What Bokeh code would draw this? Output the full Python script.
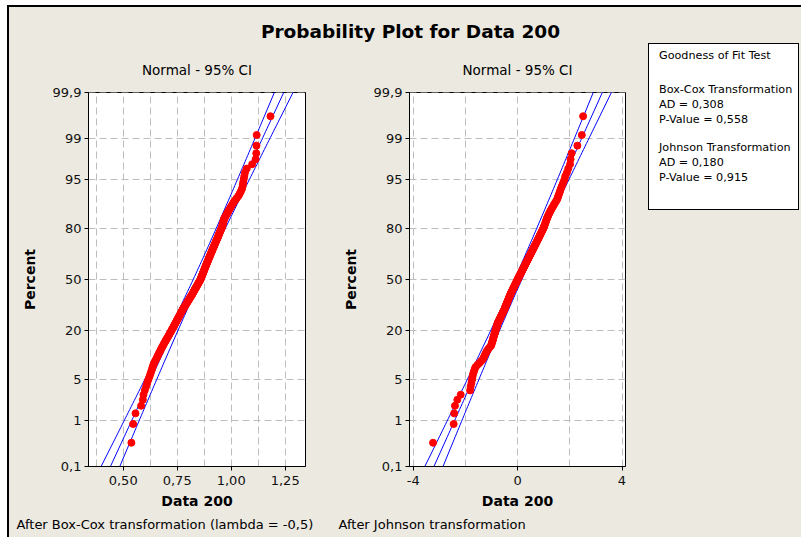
from statistics import NormalDist
import math
from bokeh.plotting import figure
from bokeh.models import Range1d, FixedTicker, Label, Title, ColumnDataSource, Div
from bokeh.layouts import row, column
from bokeh.embed import file_html
from bokeh.resources import INLINE

# ---------------- data ----------------
main_title = "Probability Plot for Data 200"
panel_title = "Normal - 95% CI"
x_label = "Data 200"
y_label = "Percent"

percent_ticks = [0.1, 1, 5, 20, 50, 80, 95, 99, 99.9]
percent_labels = ["0,1", "1", "5", "20", "50", "80", "95", "99", "99,9"]

# sorted sample after Box-Cox transformation (n = 200)
boxcox_data = [
    0.538, 0.546, 0.557, 0.583, 0.591, 0.594, 0.600, 0.606, 0.611, 0.616,
    0.621, 0.625, 0.629, 0.633, 0.636, 0.639, 0.643, 0.647, 0.652, 0.656,
    0.660, 0.663, 0.667, 0.671, 0.674, 0.678, 0.681, 0.685, 0.688, 0.691,
    0.695, 0.698, 0.701, 0.705, 0.708, 0.711, 0.714, 0.717, 0.720, 0.723,
    0.725, 0.728, 0.731, 0.733, 0.736, 0.738, 0.741, 0.743, 0.746, 0.748,
    0.750, 0.753, 0.755, 0.757, 0.760, 0.762, 0.764, 0.766, 0.768, 0.770,
    0.773, 0.775, 0.777, 0.780, 0.782, 0.784, 0.787, 0.789, 0.792, 0.794,
    0.796, 0.799, 0.801, 0.803, 0.806, 0.808, 0.810, 0.812, 0.815, 0.817,
    0.819, 0.821, 0.823, 0.825, 0.827, 0.829, 0.831, 0.833, 0.835, 0.837,
    0.839, 0.841, 0.843, 0.845, 0.847, 0.849, 0.851, 0.853, 0.855, 0.857,
    0.859, 0.860, 0.861, 0.863, 0.864, 0.865, 0.867, 0.868, 0.870, 0.871,
    0.872, 0.874, 0.875, 0.876, 0.878, 0.879, 0.881, 0.882, 0.883, 0.885,
    0.886, 0.888, 0.889, 0.891, 0.892, 0.894, 0.895, 0.897, 0.898, 0.900,
    0.902, 0.903, 0.905, 0.906, 0.908, 0.910, 0.911, 0.913, 0.914, 0.916,
    0.918, 0.920, 0.921, 0.923, 0.925, 0.927, 0.928, 0.930, 0.932, 0.934,
    0.936, 0.938, 0.940, 0.941, 0.943, 0.945, 0.947, 0.949, 0.951, 0.953,
    0.955, 0.958, 0.959, 0.960, 0.961, 0.963, 0.964, 0.966, 0.967, 0.971,
    0.974, 0.977, 0.981, 0.985, 0.988, 0.992, 0.996, 1.000, 1.005, 1.009,
    1.014, 1.021, 1.027, 1.034, 1.039, 1.044, 1.049, 1.052, 1.054, 1.056,
    1.058, 1.061, 1.064, 1.072, 1.097, 1.113, 1.116, 1.117, 1.118, 1.182,
]

# sorted sample after Johnson transformation (n = 200)
johnson_data = [
    -3.24, -2.45, -2.43, -2.40, -2.31, -2.18, -1.82, -1.80, -1.77, -1.75,
    -1.73, -1.71, -1.68, -1.65, -1.62, -1.55, -1.47, -1.40, -1.34, -1.30,
    -1.27, -1.24, -1.21, -1.18, -1.14, -1.10, -1.05, -1.01, -1.00, -0.98,
    -0.97, -0.95, -0.94, -0.93, -0.91, -0.90, -0.89, -0.87, -0.86, -0.85,
    -0.84, -0.82, -0.81, -0.80, -0.79, -0.78, -0.77, -0.755, -0.74, -0.72,
    -0.70, -0.68, -0.665, -0.65, -0.63, -0.61, -0.60, -0.58, -0.56, -0.55,
    -0.53, -0.515, -0.50, -0.49, -0.48, -0.46, -0.45, -0.44, -0.42, -0.41,
    -0.40, -0.39, -0.37, -0.36, -0.35, -0.34, -0.325, -0.31, -0.30, -0.29,
    -0.275, -0.265, -0.25, -0.235, -0.22, -0.205, -0.19, -0.18, -0.165, -0.15,
    -0.135, -0.12, -0.105, -0.09, -0.08, -0.065, -0.05, -0.035, -0.02, -0.01,
    0.01, 0.02, 0.035, 0.05, 0.065, 0.08, 0.095, 0.11, 0.125, 0.14,
    0.155, 0.17, 0.185, 0.20, 0.215, 0.23, 0.245, 0.26, 0.275, 0.29,
    0.305, 0.32, 0.335, 0.35, 0.37, 0.38, 0.40, 0.415, 0.43, 0.445,
    0.46, 0.48, 0.49, 0.51, 0.525, 0.54, 0.56, 0.575, 0.59, 0.61,
    0.625, 0.64, 0.66, 0.675, 0.695, 0.71, 0.73, 0.745, 0.765, 0.78,
    0.80, 0.82, 0.835, 0.855, 0.87, 0.89, 0.91, 0.93, 0.95, 0.97,
    0.99, 1.01, 1.02, 1.04, 1.055, 1.07, 1.085, 1.10, 1.12, 1.135,
    1.16, 1.18, 1.205, 1.23, 1.26, 1.29, 1.32, 1.36, 1.39, 1.43,
    1.47, 1.51, 1.54, 1.56, 1.59, 1.62, 1.645, 1.68, 1.72, 1.76,
    1.80, 1.83, 1.89, 1.94, 2.01, 2.03, 2.07, 2.29, 2.46, 2.51,
]

# fitted normal parameters (mean, standard deviation)
boxcox_fit = [0.842, 0.1298]
johnson_fit = [0.02, 1.044]
ci_level = 0.95

boxcox_x_ticks = [0.50, 0.75, 1.00, 1.25]
boxcox_x_labels = ["0,50", "0,75", "1,00", "1,25"]
boxcox_x_grid = [0.375, 0.5, 0.625, 0.75, 0.875, 1.0, 1.125, 1.25]
boxcox_x_range = [0.3394, 1.344]

johnson_x_ticks = [-4, 0, 4]
johnson_x_labels = ["-4", "0", "4"]
johnson_x_grid = [-4, -2, 0, 2, 4]
johnson_x_range = [-4.142, 4.134]

boxcox_note = "After Box-Cox transformation (lambda = -0,5)"
johnson_note = "After Johnson transformation"

gof_lines = [
    "Goodness of Fit Test",
    "Box-Cox Transformation",
    "AD = 0,308",
    "P-Value = 0,558",
    "Johnson Transformation",
    "AD = 0,180",
    "P-Value = 0,915",
]

# ---------------- styling ----------------
BG = "#ECE9E0"
FONT = "DejaVu Sans"
nd = NormalDist()


def ppf(p):
    return nd.inv_cdf(p)


def panel(data, fit, xr, xticks, xlabels, xgrid, note, width, mbl, mbr, note_offset):
    n = len(data)
    z = [ppf((i + 1 - 0.3) / (n + 0.4)) for i in range(n)]
    zlo, zhi = ppf(0.001), ppf(0.999)
    p = figure(width=width, height=494,
               x_range=Range1d(xr[0], xr[1]),
               y_range=Range1d(zlo - 1e-6, zhi + 1e-6),
               output_backend="svg", toolbar_location=None,
               min_border_left=mbl, min_border_right=mbr,
               min_border_top=49, min_border_bottom=71)
    p.background_fill_color = "white"
    p.border_fill_color = BG
    p.outline_line_color = "black"
    p.outline_line_width = 1

    p.title.text = panel_title
    p.title.align = "center"
    p.title.text_font = FONT
    p.title.text_font_size = "13.5px"
    p.title.text_font_style = "normal"
    p.title.text_color = "black"
    p.title.standoff = 30

    yt = [ppf(t / 100.0) for t in percent_ticks]
    p.yaxis.ticker = FixedTicker(ticks=yt)
    p.yaxis.major_label_overrides = dict(zip(yt, percent_labels))
    p.xaxis.ticker = FixedTicker(ticks=xticks)
    p.xaxis.major_label_overrides = dict(zip(xticks, xlabels))
    p.xgrid.ticker = FixedTicker(ticks=xgrid)
    p.ygrid.ticker = FixedTicker(ticks=yt)
    p.grid.grid_line_color = "#BDBDBD"
    p.grid.grid_line_dash = "7 4"
    p.grid.grid_line_width = 1

    for ax in (p.xaxis, p.yaxis):
        ax.axis_line_color = "black"
        ax.major_tick_line_color = "black"
        ax.major_tick_out = 4
        ax.major_tick_in = 0
        ax.minor_tick_line_color = None
        ax.major_label_text_font = FONT
        ax.major_label_text_font_size = "13px"
        ax.major_label_text_color = "#111111"
        ax.axis_label_text_font = FONT
        ax.axis_label_text_font_size = "14px"
        ax.axis_label_text_font_style = "bold"
        ax.axis_label_text_color = "black"
    p.xaxis.axis_label = x_label
    p.yaxis.axis_label = y_label
    p.xaxis.major_label_standoff = 5
    p.yaxis.major_label_standoff = 3
    p.xaxis.axis_label_standoff = 5
    p.yaxis.axis_label_standoff = 12

    # fitted line and 95% confidence band
    m, s = fit
    zc = ppf(0.5 + ci_level / 2)
    zz = [-3.5 + 0.05 * k for k in range(141)]
    centre = [m + s * t for t in zz]
    half = [zc * s * math.sqrt(1.0 / n + t * t / (2.0 * n)) for t in zz]
    lo = [c - h for c, h in zip(centre, half)]
    hi = [c + h for c, h in zip(centre, half)]
    for xs in (lo, centre, hi):
        p.line(xs, zz, line_color="#0000FF", line_width=1)

    src = ColumnDataSource(dict(x=data, z=z))
    p.scatter("x", "z", source=src, size=7, fill_color="#FF0000",
              line_color="#FF0000")

    t = Title(text=note, align="left", offset=note_offset,
              text_font=FONT, text_font_size="13px",
              text_font_style="normal", text_color="black", standoff=7)
    p.add_layout(t, "below")
    return p


left = panel(boxcox_data, boxcox_fit, boxcox_x_range, boxcox_x_ticks,
             boxcox_x_labels, boxcox_x_grid, boxcox_note, 327, 79, 31, -72)
right = panel(johnson_data, johnson_fit, johnson_x_range, johnson_x_ticks,
              johnson_x_labels, johnson_x_grid, johnson_note, 304, 73, 15, -71)

# ---------------- title strip ----------------
top = figure(width=792, height=36, x_range=Range1d(0, 1), y_range=Range1d(0, 1),
             output_backend="svg", toolbar_location=None,
             x_axis_type=None, y_axis_type=None,
             min_border_left=0, min_border_right=0, min_border_top=0,
             min_border_bottom=0)
top.grid.visible = False
top.outline_line_color = None
top.background_fill_color = BG
top.border_fill_color = BG
top.add_layout(Label(x=0.5063, y=0.333, text=main_title, text_align="center",
                     text_baseline="middle", text_font=FONT,
                     text_font_size="18.5px", text_font_style="bold",
                     text_color="black"))

# ---------------- goodness-of-fit box ----------------
gof_tops = [5, 39, 54, 69, 97, 112, 127]
gof_items = "".join(
    "<div style=\"position:absolute; left:10px; top:%dpx;\">%s</div>" % (t, s)
    for t, s in zip(gof_tops, gof_lines))
gof_html = ("<div style=\"position:absolute; left:8px; top:0px; width:151px; "
            "height:167px; border:1px solid black; background:white; "
            "font-family:'DejaVu Sans'; font-size:11.2px; color:black; "
            "line-height:14px; box-sizing:border-box; "
            "white-space:nowrap;\">" + gof_items + "</div>")
gof = Div(text=gof_html, width=161, height=494,
          styles={"background-color": BG, "position": "relative",
                  "margin": "0", "padding": "0"})

page = column(top, row(left, right, gof, styles={"background-color": BG}),
              styles={"margin-left": "7px", "margin-top": "5px",
                      "border-left": "2px solid black",
                      "border-top": "2px solid black",
                      "background-color": BG})

open("out.html", "w").write(file_html(page, INLINE))
